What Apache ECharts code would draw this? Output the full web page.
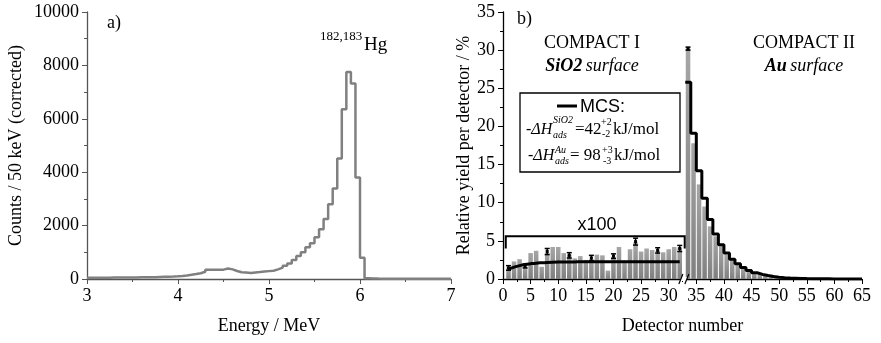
<!DOCTYPE html>
<html><head><meta charset="utf-8">
<script src="https://cdn.jsdelivr.net/npm/echarts@6/dist/echarts.min.js"></script>
<style>html,body{margin:0;padding:0;background:#fff}#c{width:881px;height:343px}</style>
</head><body><div id="c"></div>
<script>
// ---- Panel a) alpha spectrum: 50 keV bins starting at 3.00 MeV ----
const binStart = 3.0, binWidth = 0.05;
const counts = [
  50,50,50,50,50,55,55,55,60,60,
  60,65,65,70,70,75,80,85,90,100,
  115,135,160,185,215,270,350,350,345,350,
  390,360,300,255,240,225,245,260,280,295,
  310,360,425,500,585,710,860,1000,1185,1335,
  1560,1860,2245,2800,3390,4510,6360,7750,7320,3800,
  800,30,20,15,12,10,10,10,10,10,
  10,10,10,10,10,10,10,10,10,10
];
// ---- Panel b) detector yields ----
const leftDetectors = [1,2,3,4,5,6,7,8,9,10,11,12,13,14,15,16,17,18,19,20,21,22,23,24,25,26,27,28,29,30,31,32];
const leftYield = [1.5,2.3,2.6,1.6,3.4,3.7,1.6,3.4,4.2,4.2,3.4,3.2,2.7,3.0,2.5,2.6,3.2,3.1,1.1,2.9,4.2,2.4,3.9,4.8,3.6,4.0,3.8,3.7,3.5,3.9,4.2,4.1];
const leftMCS = [1.3,1.55,1.75,1.9,2.0,2.08,2.13,2.17,2.2,2.22,2.23,2.24,2.24,2.25,2.25,2.25,2.25,2.25,2.25,2.25,2.25,2.25,2.25,2.25,2.25,2.25,2.25,2.25,2.25,2.25,2.25,2.25];
const leftErrDetectors = [1,4,8,12,16,20,24,28,32];
const leftErrValues = [1.45,1.7,3.6,3.1,2.75,3.0,4.9,3.75,4.0];
const leftErrSizes = [0.3,0.25,0.4,0.35,0.35,0.3,0.45,0.35,0.4];
const rightDetectors = [33,34,35,36,37,38,39,40,41,42,43,44,45,46,47,48,49,50,51,52,53,54,55,56,57,58,59,60,61,62,63,64];
const rightYield = [30.2,17.8,12.4,9.5,6.9,5.6,4.3,3.2,2.5,1.9,1.4,1.05,0.8,0.6,0.42,0.3,0.22,0.17,0.13,0.1,0.08,0.07,0.06,0.05,0.04,0.04,0.03,0.03,0.02,0.02,0.02,0.01];
const rightMCS = [25.8,19.1,14.2,10.6,7.8,5.9,4.5,3.4,2.6,2.0,1.5,1.1,0.82,0.6,0.45,0.33,0.24,0.18,0.13,0.1,0.07,0.05,0.04,0.03,0.02,0.02,0.01,0.01,0.01,0.01,0.01,0.01];
const rightErrDetectors = [33];
const rightErrValues = [30.2];
const rightErrSizes = [0.2];

const serif = '"Liberation Serif","Times New Roman",serif';
const sans = '"Liberation Sans",Arial,sans-serif';

const spectrum = counts.map((c,i)=>[+(binStart+i*binWidth).toFixed(2), c]);
spectrum.push([+(binStart+counts.length*binWidth).toFixed(2), counts[counts.length-1]]);
const rightStep = rightDetectors.map((n,i)=>[n, rightMCS[i]]);
rightStep.push([rightDetectors[rightDetectors.length-1]+1, rightMCS[rightMCS.length-1]]);

const chart = echarts.init(document.getElementById('c'), null, {renderer:'canvas'});
const barFill = () => new echarts.graphic.LinearGradient(0,0,0,1,[{offset:0,color:'#a6a6a6'},{offset:1,color:'#7f7f7f'}]);

function axisCommon(color){
  return {
    axisLine:{show:true,lineStyle:{color:color,width:1.3}},
    axisTick:{show:true,inside:false,length:5,lineStyle:{color:color,width:1}},
    minorTick:{show:true,splitNumber:2,length:3,lineStyle:{color:color,width:1}},
    splitLine:{show:false},
    axisLabel:{fontFamily:serif,fontSize:18,color:'#000',formatter:(v)=>String(v)},
    nameTextStyle:{fontFamily:serif,fontSize:18,color:'#000'},
    nameLocation:'middle'
  };
}

function errRender(offset){
  return (p, api) => {
    const n = api.value(0)+offset, v = api.value(1), e = api.value(2);
    const top = api.coord([n, v+e]), bot = api.coord([n, v-e]);
    const x = top[0], w = 2.5;
    const st = {stroke:'#000', lineWidth:1.5};
    return {type:'group', children:[
      {type:'line', shape:{x1:x,y1:top[1],x2:x,y2:bot[1]}, style:st},
      {type:'line', shape:{x1:x-w,y1:top[1],x2:x+w,y2:top[1]}, style:st},
      {type:'line', shape:{x1:x-w,y1:bot[1],x2:x+w,y2:bot[1]}, style:st},
      {type:'rect', shape:{x:x-1.5,y:api.coord([n,v])[1]-1.5,width:3,height:3}, style:{fill:'#000'}}
    ]};
  };
}

const option = {
  animation:false,
  backgroundColor:'#fff',
  grid:[{left:87,top:12,width:364,height:267},{left:503,top:12,width:359,height:267}],
  xAxis:[
    Object.assign(axisCommon('#555'),{gridIndex:0,type:'value',min:3,max:7,interval:1,name:'Energy / MeV',nameGap:38}),
    Object.assign(axisCommon('#000'),{gridIndex:1,type:'value',min:0,max:65,interval:5,name:'Detector number',nameGap:38})
  ],
  yAxis:[
    Object.assign(axisCommon('#555'),{gridIndex:0,type:'value',min:0,max:10000,interval:2000,name:'Counts / 50 keV (corrected)',nameGap:62}),
    Object.assign(axisCommon('#000'),{gridIndex:1,type:'value',min:0,max:35,interval:5,name:'Relative yield per detector / %',nameGap:30})
  ],
  series:[
    {type:'line',xAxisIndex:0,yAxisIndex:0,data:spectrum,step:'end',showSymbol:false,
     lineStyle:{color:'#808080',width:2.5},z:3},
    {type:'custom',xAxisIndex:1,yAxisIndex:1,data:leftDetectors.map((n,i)=>[n,leftYield[i]]),
     renderItem:(p,api)=>{const n=api.value(0),v=api.value(1);const a=api.coord([n-0.5,v]),b=api.coord([n+0.5,0]);
       return {type:'rect',shape:{x:a[0]+0.5,y:a[1],width:b[0]-a[0]-1,height:b[1]-a[1]},style:{fill:barFill()}};},z:2},
    {type:'custom',xAxisIndex:1,yAxisIndex:1,data:rightDetectors.map((n,i)=>[n,rightYield[i]]),
     renderItem:(p,api)=>{const n=api.value(0),v=api.value(1);const a=api.coord([n,v]),b=api.coord([n+1,0]);
       return {type:'rect',shape:{x:a[0]+0.5,y:a[1],width:b[0]-a[0]-1,height:b[1]-a[1]},style:{fill:barFill()}};},z:2},
    {type:'line',xAxisIndex:1,yAxisIndex:1,data:leftDetectors.map((n,i)=>[n,leftMCS[i]]),smooth:true,showSymbol:false,
     lineStyle:{color:'#000',width:3},z:4},
    {type:'line',xAxisIndex:1,yAxisIndex:1,data:rightStep,step:'end',showSymbol:false,
     lineStyle:{color:'#000',width:3},z:4},
    {type:'custom',xAxisIndex:1,yAxisIndex:1,data:leftErrDetectors.map((n,i)=>[n,leftErrValues[i],leftErrSizes[i]]),
     renderItem:errRender(0),z:5},
    {type:'custom',xAxisIndex:1,yAxisIndex:1,data:rightErrDetectors.map((n,i)=>[n,rightErrValues[i],rightErrSizes[i]]),
     renderItem:errRender(0.5),z:5},
    // x100 bracket, label and axis-break marks (annotations)
    {type:'custom',xAxisIndex:1,yAxisIndex:1,data:[[0]],silent:true,z:6,
     renderItem:(p,api)=>{
       const a=api.coord([0.5,4.0]), b=api.coord([0.5,5.6]), c=api.coord([32.9,5.6]), d=api.coord([32.9,4.0]);
       const t=api.coord([17,5.6]); const br=api.coord([32.75,0]);
       return {type:'group',children:[
         {type:'polyline',shape:{points:[a,b,c,d]},style:{stroke:'#000',lineWidth:2,fill:null}},
         {type:'text',style:{text:'x100',x:t[0],y:t[1]-2,font:'18px '+sans,fill:'#000',textAlign:'center',textVerticalAlign:'bottom'}},
         {type:'rect',shape:{x:br[0]-3,y:br[1]-2,width:6,height:4},style:{fill:'#fff'}},
         {type:'line',shape:{x1:br[0]-5,y1:br[1]+5,x2:br[0]-1,y2:br[1]-5},style:{stroke:'#000',lineWidth:1.2}},
         {type:'line',shape:{x1:br[0]+1,y1:br[1]+5,x2:br[0]+5,y2:br[1]-5},style:{stroke:'#000',lineWidth:1.2}}
       ]};
     }}
  ],
  graphic:[
    {type:'text',style:{text:'a)',x:107,y:23,font:'18px '+serif,fill:'#000',textVerticalAlign:'middle'}},
    {type:'text',style:{text:'182,183',x:320,y:37,font:'13px '+serif,fill:'#000',textVerticalAlign:'middle'}},
    {type:'text',style:{text:'Hg',x:364,y:45,font:'19px '+serif,fill:'#000',textVerticalAlign:'middle'}},
    {type:'text',style:{text:'b)',x:517,y:19,font:'18px '+serif,fill:'#000',textVerticalAlign:'middle'}},
    {type:'text',style:{text:'COMPACT I',x:592,y:43,font:'18px '+serif,fill:'#000',textAlign:'center',textVerticalAlign:'middle'}},
    {type:'text',style:{text:'{b|SiO2} {i|surface}',x:592,y:66,fill:'#000',textAlign:'center',textVerticalAlign:'middle',
      rich:{b:{fontFamily:serif,fontSize:18,fontWeight:'bold',fontStyle:'italic'},i:{fontFamily:serif,fontSize:18,fontStyle:'italic'}}}},
    {type:'text',style:{text:'COMPACT II',x:804,y:43,font:'18px '+serif,fill:'#000',textAlign:'center',textVerticalAlign:'middle'}},
    {type:'text',style:{text:'{b|Au} {i|surface}',x:804,y:66,fill:'#000',textAlign:'center',textVerticalAlign:'middle',
      rich:{b:{fontFamily:serif,fontSize:18,fontWeight:'bold',fontStyle:'italic'},i:{fontFamily:serif,fontSize:18,fontStyle:'italic'}}}},
    // legend box
    {type:'rect',shape:{x:520,y:93,width:160,height:79},style:{fill:'#fff',stroke:'#000',lineWidth:1.3},z:10},
    {type:'line',shape:{x1:557,y1:106,x2:577,y2:106},style:{stroke:'#000',lineWidth:3},z:11},
    {type:'text',style:{text:'MCS:',x:580,y:107,font:'18px '+sans,fill:'#000',textVerticalAlign:'middle'},z:11},
    {type:'text',style:{text:'-ΔH',x:526,y:130,font:'italic 16px '+serif,fill:'#000',textVerticalAlign:'middle'},z:11},
    {type:'text',style:{text:'SiO2',x:553,y:120,font:'italic 10px '+serif,fill:'#000',textVerticalAlign:'middle'},z:11},
    {type:'text',style:{text:'ads',x:553,y:135,font:'italic 10px '+serif,fill:'#000',textVerticalAlign:'middle'},z:11},
    {type:'text',style:{text:'=42',x:575,y:130,font:'17px '+serif,fill:'#000',textVerticalAlign:'middle'},z:11},
    {type:'text',style:{text:'+2',x:601,y:122,font:'10px '+serif,fill:'#000',textVerticalAlign:'middle'},z:11},
    {type:'text',style:{text:'-2',x:602,y:134,font:'10px '+serif,fill:'#000',textVerticalAlign:'middle'},z:11},
    {type:'text',style:{text:'kJ/mol',x:613,y:130,font:'17px '+serif,fill:'#000',textVerticalAlign:'middle'},z:11},
    {type:'text',style:{text:'-ΔH',x:528,y:156,font:'italic 16px '+serif,fill:'#000',textVerticalAlign:'middle'},z:11},
    {type:'text',style:{text:'Au',x:555,y:150,font:'italic 10px '+serif,fill:'#000',textVerticalAlign:'middle'},z:11},
    {type:'text',style:{text:'ads',x:555,y:161,font:'italic 10px '+serif,fill:'#000',textVerticalAlign:'middle'},z:11},
    {type:'text',style:{text:'= 98',x:570,y:156,font:'17px '+serif,fill:'#000',textVerticalAlign:'middle'},z:11},
    {type:'text',style:{text:'+3',x:602,y:150,font:'10px '+serif,fill:'#000',textVerticalAlign:'middle'},z:11},
    {type:'text',style:{text:'-3',x:603,y:161,font:'10px '+serif,fill:'#000',textVerticalAlign:'middle'},z:11},
    {type:'text',style:{text:'kJ/mol',x:614,y:156,font:'17px '+serif,fill:'#000',textVerticalAlign:'middle'},z:11}
  ]
};
chart.setOption(option);
</script></body></html>
